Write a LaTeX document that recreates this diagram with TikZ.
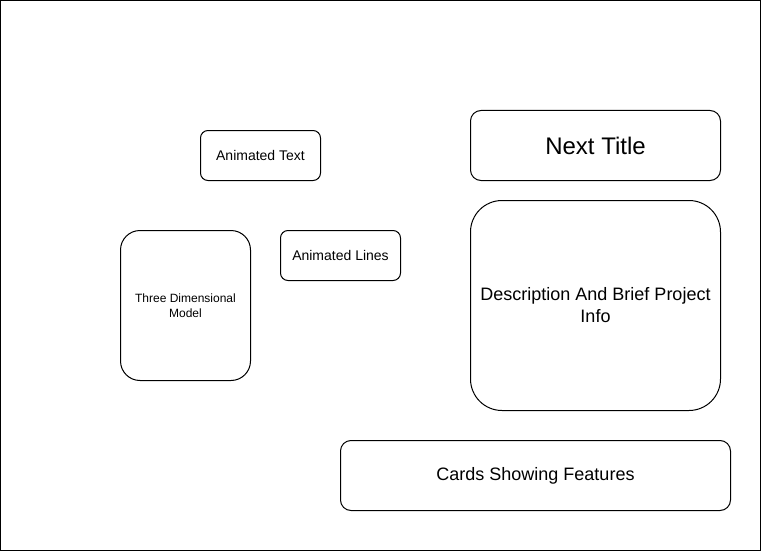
\documentclass[tikz,border=0pt]{standalone}
\usepackage{fontspec}
\setmainfont{Liberation Sans}
\begin{document}
\begin{tikzpicture}[x=1pt,y=-1pt]
\useasboundingbox (0,0) rectangle (761,551);
\draw[line width=1pt] (0.5,0.5) rectangle (760.5,550.5);
\newcommand{\rbox}[8]{% name, x, y, w, h, radius, fontsize, text
  \draw[line width=1pt,rounded corners=#6] (#2+0.5,#3+0.5) rectangle ++(#4,#5);
  \node[align=center,inner sep=0pt,font=\fontsize{#7}{#7}\selectfont] (#1) at (#2+#4/2+0.5,#3+#5/2+0.5) {#8};
}
\rbox{at}{200}{130}{120}{50}{7.5}{14}{Animated Text}
\rbox{nt}{470}{110}{250}{70}{10.5}{24}{Next Title}
\rbox{tdm}{120}{230}{130}{150}{19.5}{12}{}
\node[font=\fontsize{12}{15}\selectfont,align=center,inner sep=0pt] (tdmt) at (185.5,305.5) {Three Dimensional\\Model};
\rbox{al}{280}{230}{120}{50}{7.5}{14}{Animated Lines}
\rbox{desc}{470}{200}{250}{210}{31.5}{18}{}
\node[font=\fontsize{18}{22}\selectfont,align=center,inner sep=0pt] (desct) at (595.5,305.5) {Description And Brief Project\\Info};
\rbox{cards}{340}{440}{390}{70}{10.5}{18}{Cards Showing Features}
\end{tikzpicture}
\end{document}
